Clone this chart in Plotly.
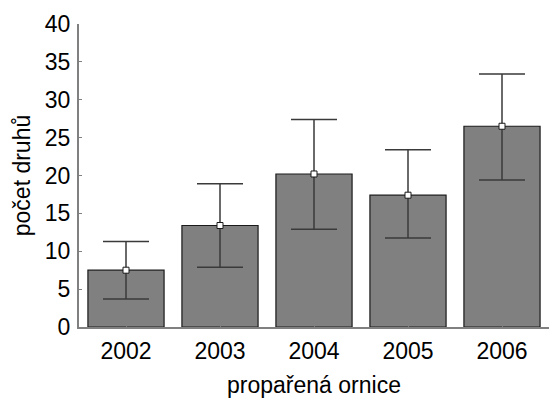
import plotly.graph_objects as go

years = ["2002", "2003", "2004", "2005", "2006"]
means = [7.5, 13.4, 20.2, 17.4, 26.5]
upper = [11.3, 18.9, 27.4, 23.4, 33.4]
lower = [3.7, 7.9, 12.9, 11.75, 19.4]

err_plus = [u - m for u, m in zip(upper, means)]
err_minus = [m - l for m, l in zip(means, lower)]

FONT = "Liberation Sans, Arial, sans-serif"
FS = 23

fig = go.Figure()
fig.add_trace(go.Bar(
    x=years, y=means,
    marker=dict(color="#808080", line=dict(color="#1a1a1a", width=1.2)),
    width=0.81,
    showlegend=False,
    hoverinfo="skip",
))
fig.add_trace(go.Scatter(
    x=years, y=means, mode="markers",
    marker=dict(symbol="square", size=6, color="white",
                line=dict(color="#1a1a1a", width=1)),
    error_y=dict(type="data", symmetric=False, array=err_plus,
                 arrayminus=err_minus, color="#3a3a3a", thickness=1.5, width=23),
    showlegend=False,
))

fig.update_layout(
    width=549, height=405,
    margin=dict(l=79, r=0, t=24, b=78),
    paper_bgcolor="white", plot_bgcolor="white",
    font=dict(family=FONT, size=FS, color="black"),
    xaxis=dict(
        type="category", range=[-0.5, 4.5],
        showline=True, linecolor="#808080", linewidth=2,
        ticks="inside", ticklen=3, tickcolor="#808080",
        showgrid=False, zeroline=False,
        tickfont=dict(size=FS), ticklabelstandoff=2,
        title=dict(text="propařená ornice", font=dict(size=FS), standoff=14),
    ),
    yaxis=dict(
        range=[0, 40], dtick=5,
        showline=True, linecolor="#808080", linewidth=2,
        ticks="inside", ticklen=3, tickcolor="#808080",
        showgrid=False, zeroline=False,
        tickfont=dict(size=FS), ticklabelstandoff=2,
        title=dict(text="počet druhů", font=dict(size=FS), standoff=8),
    ),
)

fig.write_html("out.html")
